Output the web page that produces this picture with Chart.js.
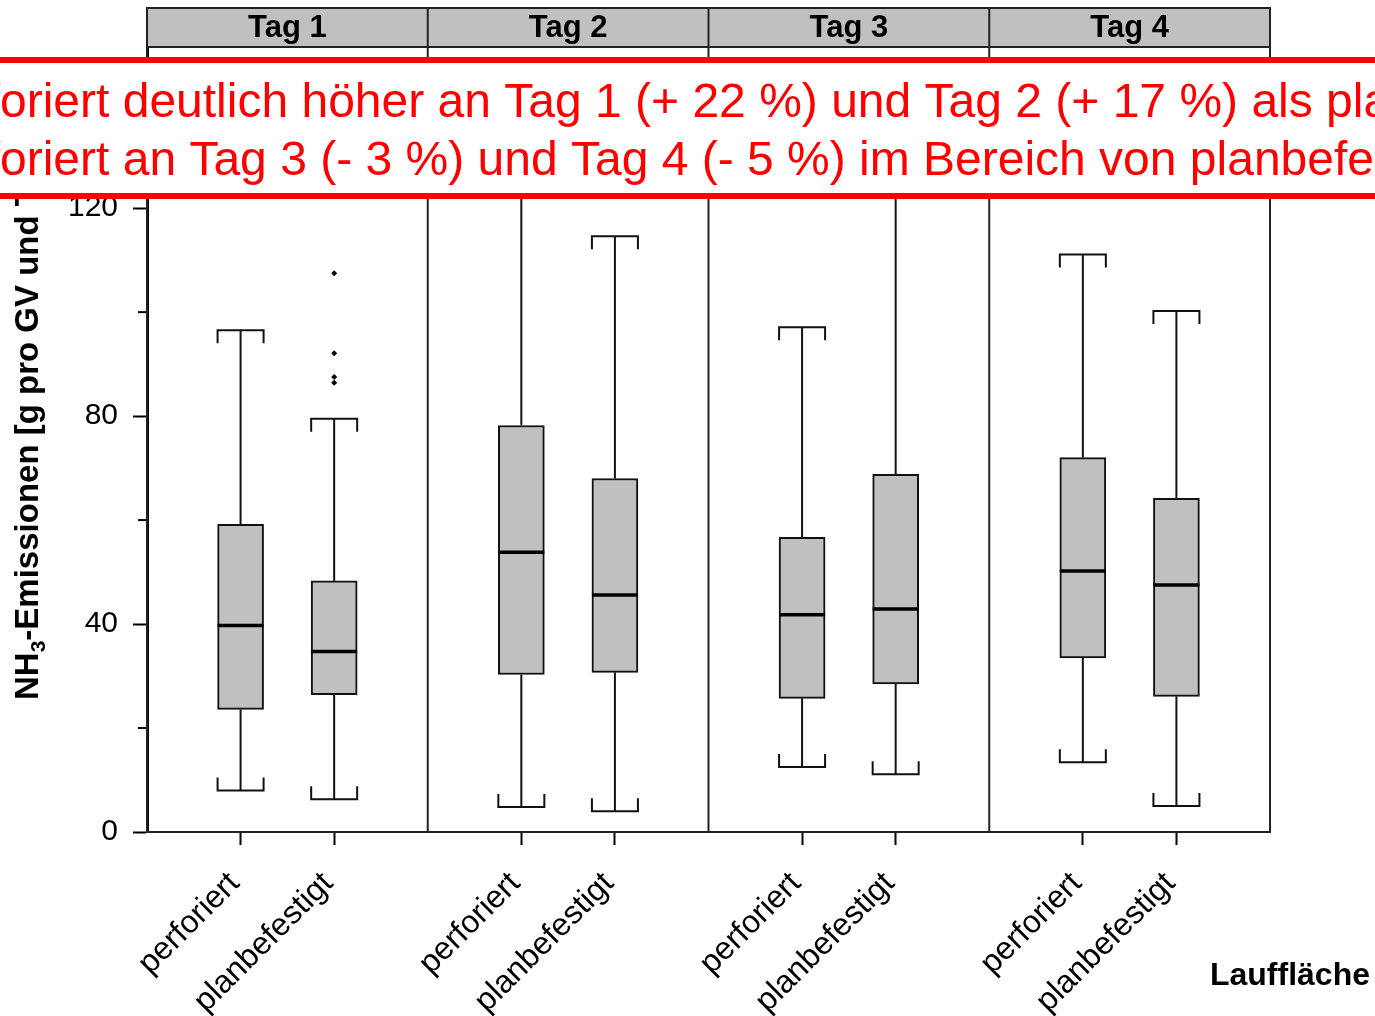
<!DOCTYPE html>
<html>
<head>
<meta charset="utf-8">
<script src="https://cdn.jsdelivr.net/npm/chart.js@4.4.1/dist/chart.umd.min.js"></script>
<style>
  html, body { margin: 0; padding: 0; background: #fff; }
  #wrap { width: 1375px; height: 1016px; position: relative; }
</style>
</head>
<body>
<div id="wrap"><canvas id="myChart"></canvas></div>
<script>
// Tage (Panels) und Laufflächen (Boxen je Panel)
var days = ['Tag 1', 'Tag 2', 'Tag 3', 'Tag 4'];
var surfaces = ['perforiert', 'planbefestigt'];

// Boxplot-Kennwerte, Reihenfolge: Tag 1 perforiert, Tag 1 planbefestigt, Tag 2 perforiert, ...
var whiskerLow  = [8.0, 6.3, 4.8, 4.0, 12.5, 11.1, 13.4, 5.0];
var quart1      = [23.6, 26.4, 30.3, 30.7, 25.7, 28.5, 33.5, 26.1];
var medians     = [39.7, 34.7, 53.8, 45.6, 41.8, 42.9, 50.2, 47.5];
var quart3      = [59.2, 48.3, 78.2, 68.0, 56.7, 68.8, 72.0, 64.2];
var whiskerHigh = [96.5, 79.5, 135, 114.6, 97.1, 132, 111.1, 100.2];

// Ausreisser: Gruppe (Index wie oben) und Wert
var outlierGroup  = [1, 1, 1, 1];
var outlierValues = [107.5, 92.1, 87.5, 86.4];

// Achsen
var yTicks = [0, 40, 80, 120];
var yMinorTicks = [20, 60, 100];
var yTitleMain = 'NH';
var yTitleSub = '3';
var yTitleRest = '-Emissionen [g pro GV und Tag]';
var xTitle = 'Lauffläche';

// roter Hinweiskasten
var note1 = 'Perforiert deutlich höher an Tag 1 (+ 22 %) und Tag 2 (+ 17 %) als planbefestigt';
var note2 = 'Perforiert an Tag 3 (- 3 %) und Tag 4 (- 5 %) im Bereich von planbefestigt';

var FONT = "'Liberation Sans', Arial, sans-serif";

// Position auf der x-Achse: jedes Panel ist 3 Einheiten breit
function groupX(i) {
    return Math.floor(i / surfaces.length) * 3 + (i % surfaces.length) + 1;
}

var boxData = [];
for (var i = 0; i < medians.length; i++) {
    boxData.push({ x: groupX(i), y: [quart1[i], quart3[i]] });
}
var outlierData = [];
for (var i = 0; i < outlierValues.length; i++) {
    outlierData.push({ x: groupX(outlierGroup[i]), y: outlierValues[i] });
}
var xTickValues = [];
var xTickLabels = {};
for (var i = 0; i < medians.length; i++) {
    xTickValues.push(groupX(i));
    xTickLabels[groupX(i)] = surfaces[i % surfaces.length];
}

function seg(ctx, x1, y1, x2, y2) {
    ctx.beginPath();
    ctx.moveTo(x1, y1);
    ctx.lineTo(x2, y2);
    ctx.stroke();
}

var boxPlugin = {
    id: 'boxparts',
    beforeDatasetsDraw: function(chart) {
        var ctx = chart.ctx, xs = chart.scales.x, ys = chart.scales.y;
        var half = 23, capTick = 13;
        ctx.save();
        ctx.strokeStyle = '#111';
        ctx.lineWidth = 2;
        for (var i = 0; i < medians.length; i++) {
            var px = xs.getPixelForValue(groupX(i));
            var yHi = ys.getPixelForValue(whiskerHigh[i]);
            var yLo = ys.getPixelForValue(whiskerLow[i]);
            seg(ctx, px, ys.getPixelForValue(quart3[i]), px, yHi);
            seg(ctx, px, ys.getPixelForValue(quart1[i]), px, yLo);
            // Kappen als Klammer
            ctx.beginPath();
            ctx.moveTo(px - half, yHi + capTick);
            ctx.lineTo(px - half, yHi);
            ctx.lineTo(px + half, yHi);
            ctx.lineTo(px + half, yHi + capTick);
            ctx.stroke();
            ctx.beginPath();
            ctx.moveTo(px - half, yLo - capTick);
            ctx.lineTo(px - half, yLo);
            ctx.lineTo(px + half, yLo);
            ctx.lineTo(px + half, yLo - capTick);
            ctx.stroke();
        }
        ctx.restore();
    },
    afterDatasetsDraw: function(chart) {
        var ctx = chart.ctx, xs = chart.scales.x, ys = chart.scales.y;
        ctx.save();
        ctx.strokeStyle = '#000';
        ctx.lineWidth = 3.5;
        for (var i = 0; i < medians.length; i++) {
            var px = xs.getPixelForValue(groupX(i));
            var ym = ys.getPixelForValue(medians[i]);
            seg(ctx, px - 23, ym, px + 23, ym);
        }
        ctx.restore();
    },
    afterDraw: function(chart) {
        var ctx = chart.ctx, xs = chart.scales.x, ys = chart.scales.y;
        var a = chart.chartArea;
        ctx.save();

        // kleine Zwischenstriche an der y-Achse
        ctx.strokeStyle = '#000';
        ctx.lineWidth = 2;
        yMinorTicks.forEach(function(v) {
            var py = ys.getPixelForValue(v);
            seg(ctx, a.left - 9, py, a.left, py);
        });

        // Panelrahmen
        ctx.strokeStyle = '#222';
        ctx.lineWidth = 2;
        ctx.strokeRect(a.left, a.top, a.right - a.left, a.bottom - a.top);
        for (var d = 1; d < days.length; d++) {
            var px = xs.getPixelForValue(d * 3);
            seg(ctx, px, a.top, px, a.bottom);
        }

        // Streifen mit Tag-Beschriftung
        var stripTop = 8;
        ctx.fillStyle = '#c0c0c0';
        ctx.fillRect(a.left, stripTop, a.right - a.left, a.top - stripTop);
        ctx.strokeRect(a.left, stripTop, a.right - a.left, a.top - stripTop);
        ctx.fillStyle = '#000';
        ctx.font = 'bold 31px ' + FONT;
        ctx.textAlign = 'center';
        ctx.textBaseline = 'middle';
        for (var d = 0; d < days.length; d++) {
            var x0 = xs.getPixelForValue(d * 3), x1 = xs.getPixelForValue(d * 3 + 3);
            if (d > 0) seg(ctx, x0, stripTop, x0, a.top);
            ctx.fillText(days[d], (x0 + x1) / 2, (stripTop + a.top) / 2 + 1);
        }

        // y-Achsentitel
        ctx.save();
        ctx.translate(38, 700);
        ctx.rotate(-Math.PI / 2);
        ctx.textAlign = 'left';
        ctx.textBaseline = 'alphabetic';
        ctx.font = 'bold 33px ' + FONT;
        ctx.fillText(yTitleMain, 0, 0);
        var w1 = ctx.measureText(yTitleMain).width;
        ctx.font = 'bold 21px ' + FONT;
        ctx.fillText(yTitleSub, w1, 7);
        var w2 = ctx.measureText(yTitleSub).width;
        ctx.font = 'bold 33px ' + FONT;
        ctx.fillText(yTitleRest, w1 + w2, 0);
        ctx.restore();

        // x-Achsentitel
        ctx.font = 'bold 32px ' + FONT;
        ctx.textAlign = 'right';
        ctx.textBaseline = 'alphabetic';
        ctx.fillText(xTitle, 1370, 985);

        // roter Hinweiskasten
        ctx.fillStyle = '#fff';
        ctx.fillRect(-10, 60, chart.width + 20, 136);
        ctx.strokeStyle = '#ff0000';
        ctx.lineWidth = 6;
        ctx.strokeRect(-10, 60, chart.width + 20, 136);
        ctx.fillStyle = '#ff0000';
        ctx.font = '48px ' + FONT;
        ctx.textAlign = 'left';
        var cut = ctx.measureText('Perf').width;
        ctx.fillText(note1, -cut, 117);
        ctx.fillText(note2, -cut, 175);

        ctx.restore();
    }
};

var ctx = document.getElementById('myChart');
var myChart = new Chart(ctx, {
    type: 'bar',
    data: {
        datasets: [
            {
                data: boxData,
                backgroundColor: '#c0c0c0',
                borderColor: '#111',
                borderWidth: 2,
                borderSkipped: false,
                barThickness: 46
            },
            {
                type: 'scatter',
                data: outlierData,
                pointStyle: 'rectRot',
                radius: 3,
                backgroundColor: '#000',
                borderColor: '#000',
                borderWidth: 0
            }
        ]
    },
    options: {
        responsive: true,
        maintainAspectRatio: false,
        animation: false,
        layout: { padding: { top: 47, right: 105, left: 0, bottom: 0 } },
        plugins: { legend: { display: false }, tooltip: { enabled: false } },
        scales: {
            x: {
                type: 'linear',
                min: 0,
                max: 12,
                offset: false,
                afterBuildTicks: function(scale) {
                    scale.ticks = xTickValues.map(function(v) { return { value: v }; });
                },
                afterFit: function(scale) { scale.height = 184; },
                grid: { offset: false, drawOnChartArea: false, drawTicks: true, tickLength: 13, tickColor: '#000', tickWidth: 2 },
                border: { display: true, color: '#222', width: 2 },
                ticks: {
                    autoSkip: false,
                    minRotation: 45,
                    maxRotation: 45,
                    padding: 20,
                    labelOffset: -6,
                    color: '#000',
                    font: { family: FONT, size: 32 },
                    callback: function(value) { return xTickLabels[value] || ''; }
                }
            },
            y: {
                min: 0,
                max: 151,
                afterBuildTicks: function(scale) {
                    scale.ticks = yTicks.map(function(v) { return { value: v }; });
                },
                afterFit: function(scale) { scale.width = 147; },
                grid: { drawOnChartArea: false, drawTicks: true, tickLength: 14, tickColor: '#000', tickWidth: 2 },
                border: { display: true, color: '#000', width: 3 },
                ticks: {
                    padding: 15,
                    color: '#000',
                    font: { family: FONT, size: 30 }
                }
            }
        }
    },
    plugins: [boxPlugin]
});
</script>
</body>
</html>
